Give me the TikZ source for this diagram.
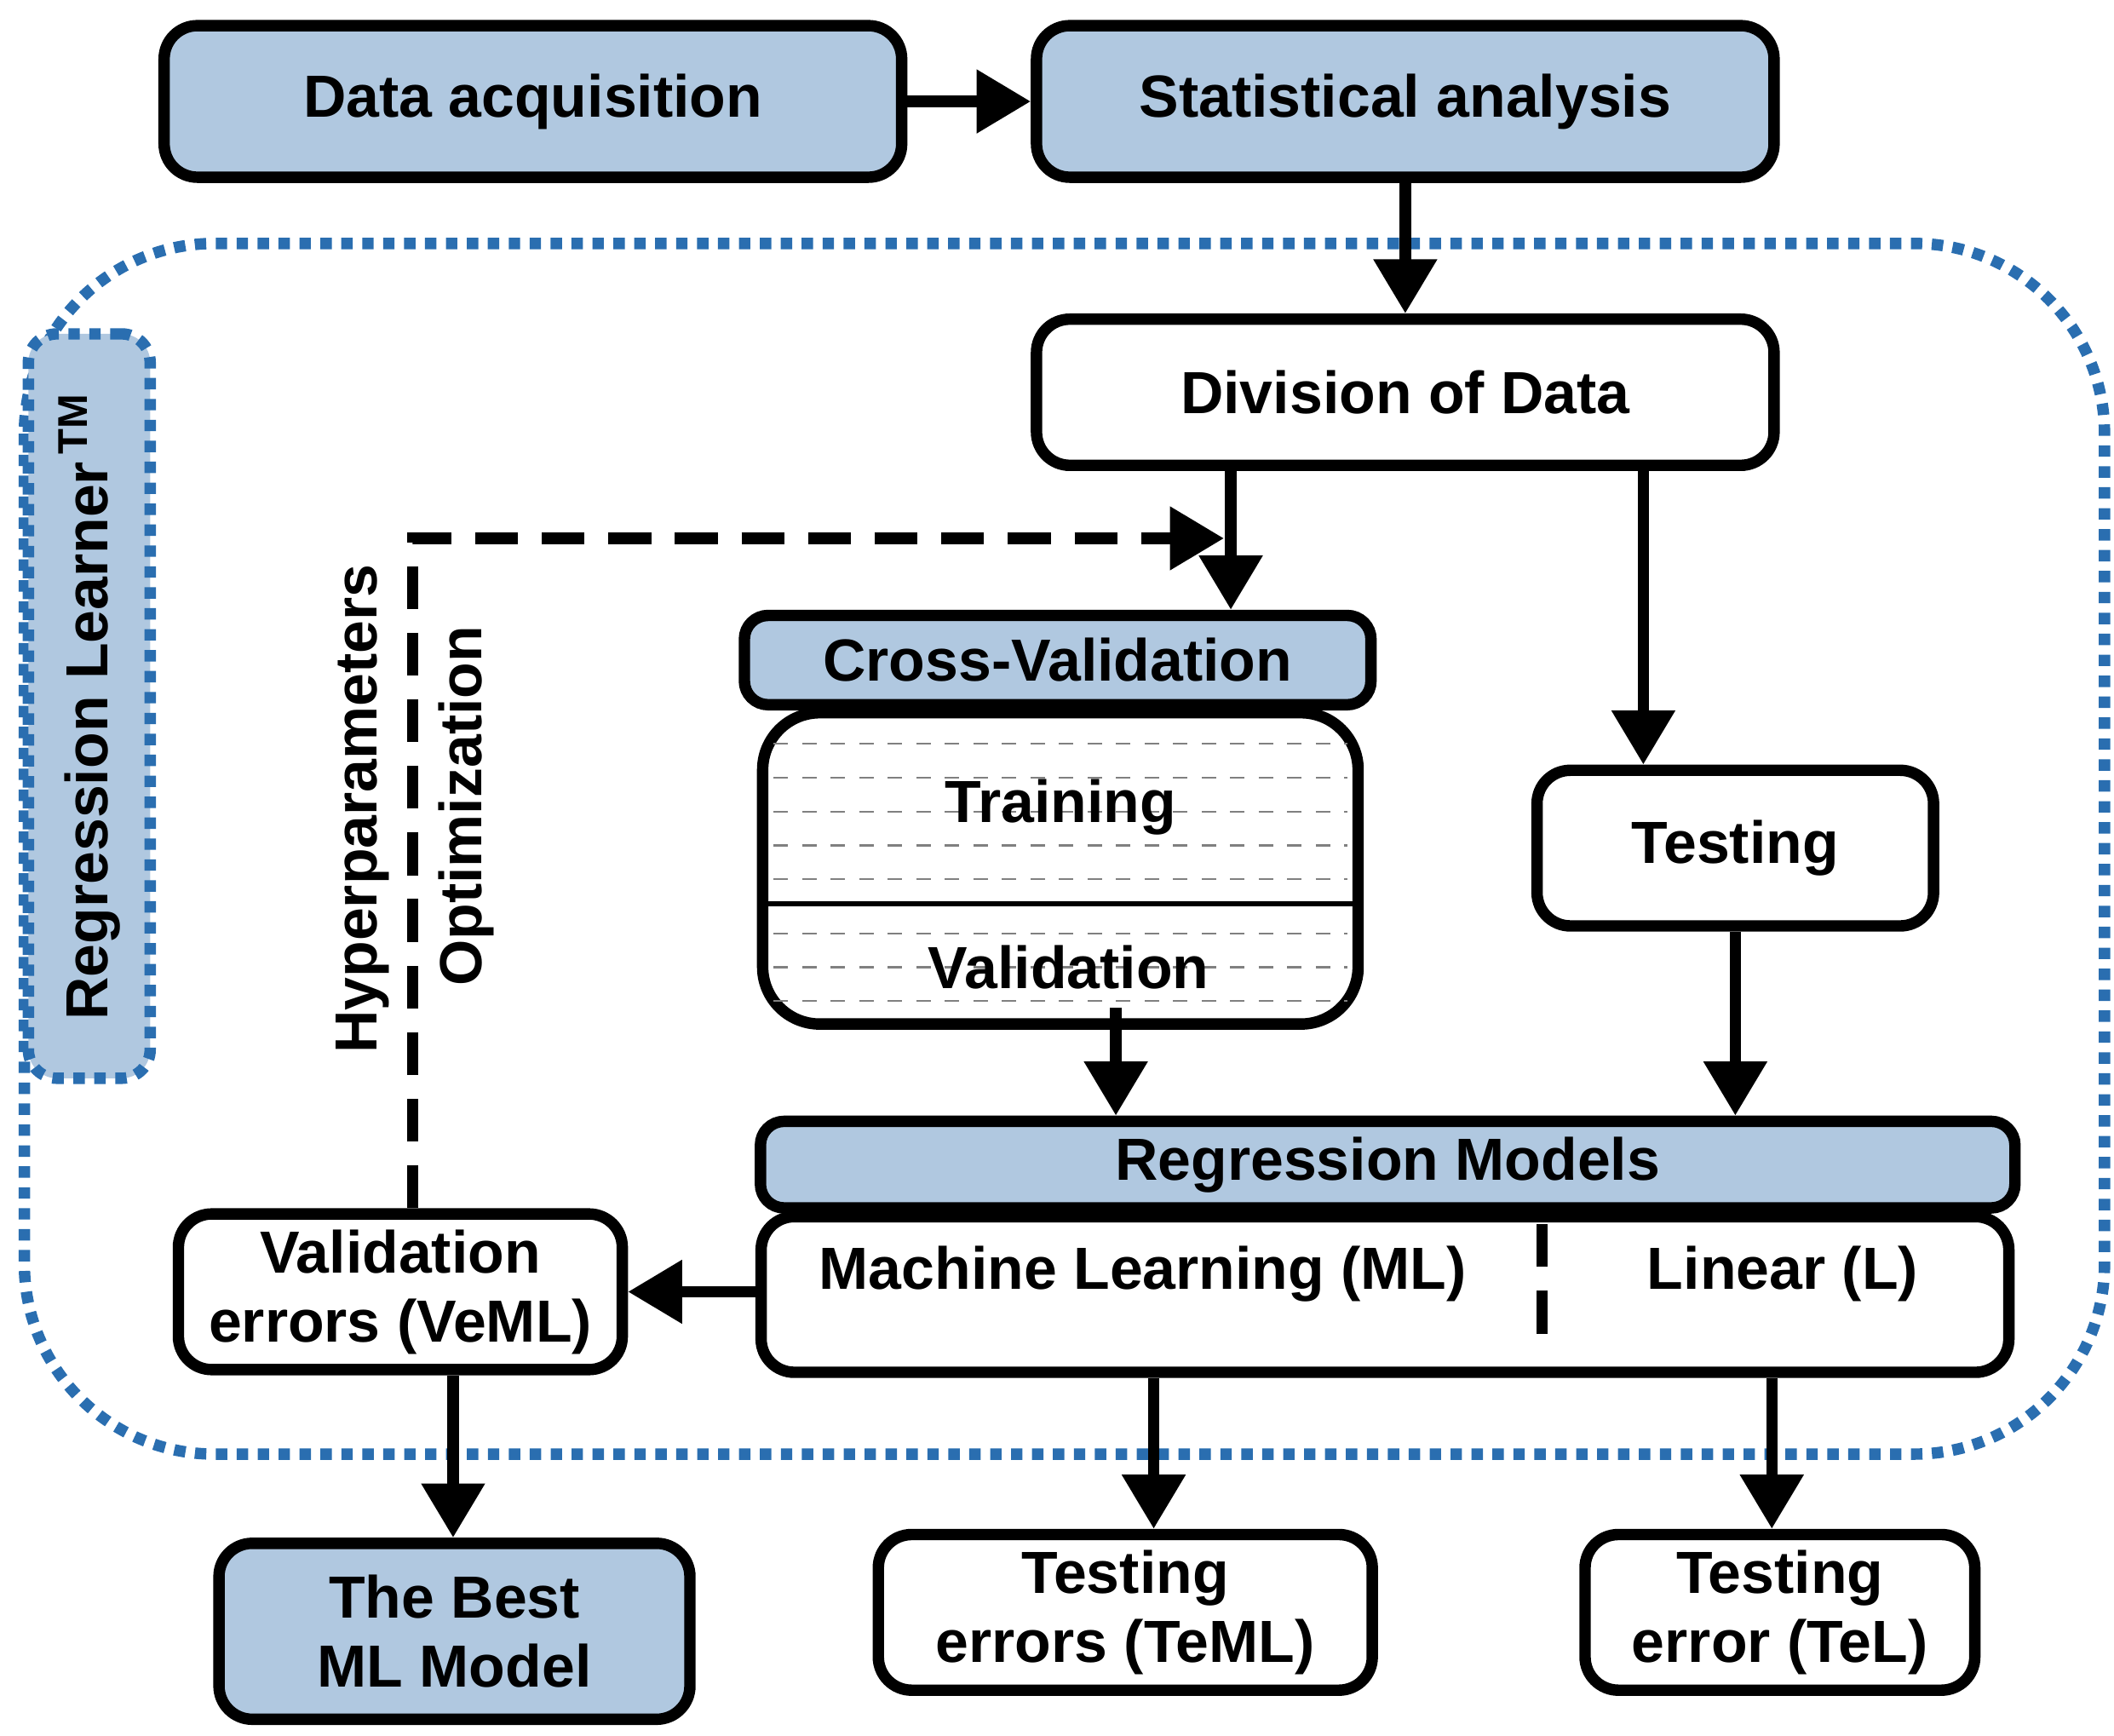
\documentclass[tikz,border=0pt]{standalone}
\usepackage{fontspec}
\setmainfont{Liberation Sans}
\usetikzlibrary{positioning}
\usetikzlibrary{arrows.meta}
\definecolor{boxblue}{HTML}{B0C8E0}
\definecolor{dotblue}{HTML}{2A6EB0}
\tikzset{
  stepbox/.style = {shape=rectangle, rounded corners=7pt, draw, line width=2.4pt,
                    align=center, font=\fontsize{12.5}{14.5}\selectfont\bfseries,
                    inner sep=0pt},
  headbox/.style = {stepbox, fill=boxblue},
  plainbox/.style = {stepbox, fill=white},
  lbl/.style = {font=\fontsize{12.5}{14.5}\selectfont\bfseries},
  flow/.style = {line width=2.4pt, -{Triangle[length=0.4cm,width=0.45cm]}},
  longdash/.style = {dash pattern=on 9pt off 5pt}
}
\begin{document}
\begin{tikzpicture}[x=0.01cm, y=-0.01cm]
  \useasboundingbox (0,0) rectangle (1563,1283);
  % learner frame
  \draw[dotblue, line width=2.4pt, dotted, rounded corners=40pt] (18,180) rectangle (1556,1075);
  \node[stepbox, draw=dotblue, dotted, fill=boxblue, rounded corners=6pt,
        minimum width=0.9cm, minimum height=5.5cm] (rl) at (66,522)
        {\rotatebox{90}{Regression Learner\textsuperscript{\,TM}}};
  % top row
  \node[headbox, minimum width=5.45cm, minimum height=1.12cm] (acq) at (394,75) {Data acquisition};
  \node[headbox, minimum width=5.45cm, minimum height=1.12cm] (stat) at (1039,75) {Statistical analysis};
  \node[plainbox, minimum width=5.45cm, minimum height=1.08cm] (div) at (1039,290) {Division of Data};
  % cross validation
  \node[headbox, rounded corners=5pt, minimum width=4.63cm, minimum height=0.66cm] (cv) at (782,488) {Cross-Validation};
  \node[plainbox, rounded corners=12pt, minimum width=4.4cm, minimum height=2.3cm] (tv) at (784,642) {};
  \foreach \y in {550,575,600,625,650,690,715,740}
    \draw[gray, dashed, line width=0.4pt] (572,\y) -- (996,\y);
  \draw[line width=1pt] (566,668) -- (1002,668);
  \node[lbl] (train) at (784,597) {Training};
  \node[lbl] (valid) at (790,715) {Validation};
  \node[plainbox, minimum width=2.93cm, minimum height=1.15cm] (test) at (1283,627) {Testing};
  % regression models
  \node[headbox, rounded corners=5pt, minimum width=9.27cm, minimum height=0.64cm] (rm) at (1026,861) {Regression Models};
  \node[plainbox, minimum width=9.22cm, minimum height=1.15cm] (rmb) at (1024,957) {};
  \node[lbl] (ml) at (845,942) {Machine Learning (ML)};
  \node[lbl] (lin) at (1318,942) {Linear (L)};
  \draw[line width=2.4pt, longdash] (1140,905) -- (1140,1002);
  \node[plainbox, minimum width=3.28cm, minimum height=1.15cm] (verr) at (296,955) {Validation\\errors (VeML)};
  % results
  \node[headbox, minimum width=3.48cm, minimum height=1.3cm] (best) at (336,1206) {The Best\\ML Model};
  \node[plainbox, minimum width=3.65cm, minimum height=1.15cm] (teml) at (832,1192) {Testing\\errors (TeML)};
  \node[plainbox, minimum width=2.88cm, minimum height=1.15cm] (tel) at (1316,1192) {Testing\\error (TeL)};
  % flow
  \draw[flow] (acq) -- (stat);
  \draw[flow] (stat) -- (div);
  \draw[flow] (div.south -| 910,0) -- (cv.north -| 910,0);
  \draw[flow] (div.south -| 1215,0) -- (test.north -| 1215,0);
  \draw[flow] (825,745) -- (rm.north -| 825,0);
  \draw[flow] (test) -- (rm.north -| test);
  \draw[flow] (rmb.west |- verr) -- (verr.east);
  \draw[flow] (verr.south -| 335,0) -- (best.north -| 335,0);
  \draw[flow] (rmb.south -| 853,0) -- (teml.north -| 853,0);
  \draw[flow] (rmb.south -| 1310,0) -- (tel.north -| 1310,0);
  \coordinate (fb) at (305,398);
  \draw[flow, longdash] (verr.north -| fb) -- (fb) -- (905,398);
  \node[lbl, rotate=90] (hyp) at (268,598) {Hyperparameters};
  \node[lbl, rotate=90] (opt) at (345,596) {Optimization};
\end{tikzpicture}
\end{document}
